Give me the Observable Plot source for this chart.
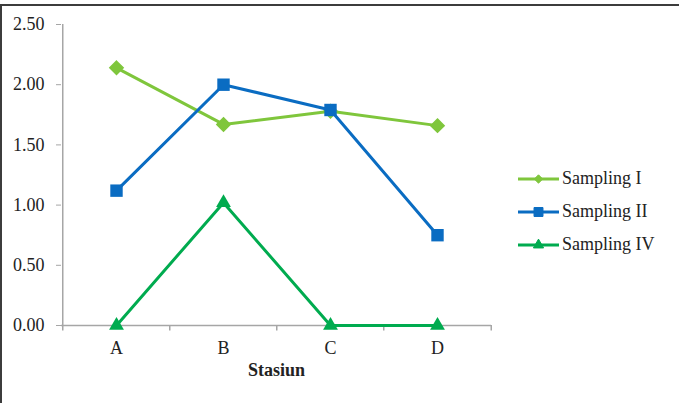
<!DOCTYPE html>
<html>
<head>
<meta charset="utf-8">
<script src="https://cdn.jsdelivr.net/npm/d3@7"></script>
<script src="https://cdn.jsdelivr.net/npm/@observablehq/plot@0.6"></script>
<style>
  html, body { margin: 0; padding: 0; background: #fff; }
  #wrap { position: relative; width: 683px; height: 403px; overflow: hidden; }
  #border { position: absolute; left: 0; top: 4px; width: 677px; height: 400px;
            border-top: 2px solid #3c3c3c; border-left: 2px solid #3c3c3c; }
  #chart { position: absolute; left: 0; top: 0; }
  #legend { position: absolute; left: 518px; top: 162px; font-family: "Liberation Serif", serif;
            font-size: 18px; color: #222; }
  .row { display: flex; align-items: center; height: 33px; }
  .row svg { display: block; margin-right: 3px; }
</style>
</head>
<body>
<div id="wrap">
  <div id="border"></div>
  <div id="chart"></div>
  <div id="legend"></div>
</div>
<script>
const categories = ["A", "B", "C", "D"];
const sampling1 = [2.14, 1.67, 1.78, 1.66];
const sampling2 = [1.12, 2.00, 1.79, 0.75];
const sampling4 = [0.00, 1.02, 0.00, 0.00];
const seriesNames = ["Sampling I", "Sampling II", "Sampling IV"];
const seriesColors = ["#7fc63c", "#0a6cc2", "#00ab4f"];
const seriesSymbols = ["diamond2", "square", "triangle"];
const yTicks = [0, 0.5, 1, 1.5, 2, 2.5];
const xTitle = "Stasiun";

const seriesValues = [sampling1, sampling2, sampling4];
const rows = [];
seriesNames.forEach((name, s) => {
  categories.forEach((c, i) => rows.push({series: name, cat: c, value: seriesValues[s][i]}));
});

const width = 683, height = 403;
const marginLeft = 61, marginRight = 192, marginTop = 24, marginBottom = 78;
const step = (width - marginLeft - marginRight) / categories.length;
const axisColor = "#a6a6a6";
const dotR = {"diamond2": 6, "square": 7, "triangle": 5.5};

const marks = [
  Plot.ruleY([0], {stroke: axisColor, strokeWidth: 1.5}),
  Plot.ruleX([categories[0]], {dx: -step / 2, y1: 0, y2: 2.5, stroke: axisColor, strokeWidth: 1.5}),
  Plot.ruleX(categories, {dx: -step / 2, y1: 0, y2: -0.045, stroke: axisColor, strokeWidth: 1.5}),
  Plot.ruleX([categories[categories.length - 1]], {dx: step / 2, y1: 0, y2: -0.045, stroke: axisColor, strokeWidth: 1.5}),
  Plot.axisY({ticks: yTicks, tickFormat: d3.format(".2f"), tickSize: 5, tickPadding: 12, label: null, stroke: axisColor}),
  Plot.axisX({tickSize: 0, tickPadding: 16, label: null}),
  Plot.text([xTitle], {frameAnchor: "bottom", dy: 50, fontWeight: "bold", fontSize: 18})
];
seriesNames.forEach((name, s) => {
  const data = rows.filter(d => d.series === name);
  marks.push(Plot.line(data, {x: "cat", y: "value", stroke: seriesColors[s], strokeWidth: 3}));
  marks.push(Plot.dot(data, {x: "cat", y: "value", symbol: () => seriesSymbols[s], r: dotR[seriesSymbols[s]],
    fill: seriesColors[s], stroke: seriesColors[s], strokeWidth: seriesSymbols[s] === "diamond2" ? 1.5 : 0}));
});

const chart = Plot.plot({
  width, height, marginLeft, marginRight, marginTop, marginBottom,
  style: {fontFamily: "Liberation Serif, serif", fontSize: "18px", color: "#222", background: "transparent"},
  x: {type: "point", domain: categories, padding: 0.5},
  y: {domain: [0, 2.5]},
  symbol: {type: "identity"},
  marks
});
document.getElementById("chart").append(chart);

// legend
const legend = document.getElementById("legend");
seriesNames.forEach((name, s) => {
  const row = document.createElement("div");
  row.className = "row";
  const sv = d3.create("svg").attr("width", 41).attr("height", 14);
  sv.append("line").attr("x1", 0).attr("x2", 41).attr("y1", 7).attr("y2", 7)
    .attr("stroke", seriesColors[s]).attr("stroke-width", 3);
  const sym = {diamond2: d3.symbolDiamond2, square: d3.symbolSquare, triangle: d3.symbolTriangle}[seriesSymbols[s]];
  const size = {diamond2: 45, square: 80, triangle: 45}[seriesSymbols[s]];
  sv.append("path").attr("d", d3.symbol(sym, size)()).attr("transform", "translate(20.5,7)")
    .attr("fill", seriesColors[s]).attr("stroke", seriesColors[s]).attr("stroke-width", 1);
  row.append(sv.node());
  const t = document.createElement("span");
  t.textContent = name;
  row.append(t);
  legend.append(row);
});
</script>
</body>
</html>
